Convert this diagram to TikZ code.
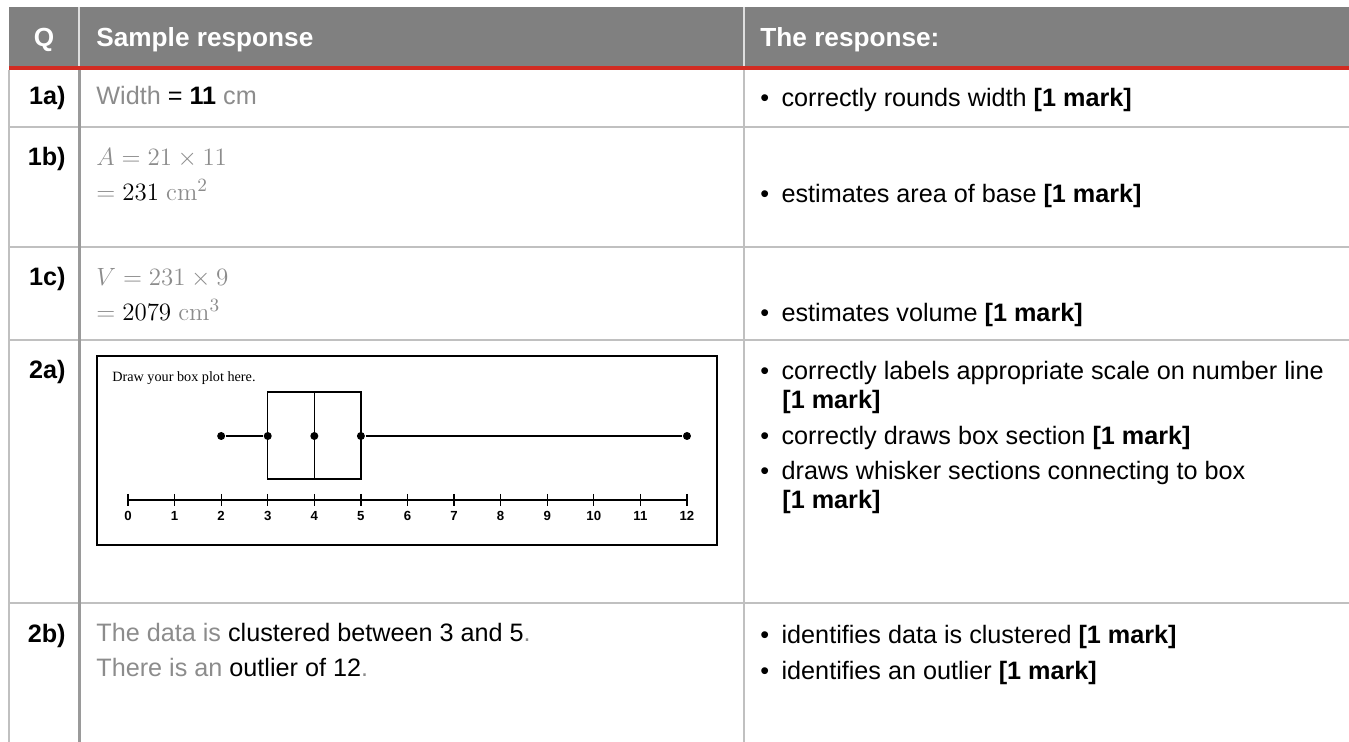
\documentclass[tikz,border=0pt]{standalone}
\usepackage[no-math]{fontspec}
\usepackage{graphicx}
\setmainfont{Liberation Sans}
\newfontfamily\plotfont{Liberation Serif}
\usetikzlibrary{positioning}

\definecolor{hdrgray}{HTML}{808080}
\definecolor{rulered}{HTML}{D22B22}
\definecolor{gridgray}{HTML}{C0C0C0}
\definecolor{txtgray}{HTML}{8C8C8C}

\newcommand{\mk}{\textbf{[1 mark]}}
\newcommand{\gr}[1]{\textcolor{txtgray}{#1}}
\newcommand{\bul}{\textbullet\hspace{6.2pt}}
\newcommand{\mth}[1]{\scalebox{1.04}{$#1$}}

\tikzset{
  hdr/.style={anchor=base west, inner sep=0pt, text=white,
    font=\fontsize{13.1}{15}\selectfont\bfseries},
  qlab/.style={anchor=base east, inner sep=0pt,
    font=\fontsize{12.6}{15}\selectfont\bfseries},
  resp/.style={anchor=base west, inner sep=0pt,
    font=\fontsize{12.6}{15}\selectfont},
  mathresp/.style={anchor=base west, inner sep=0pt, text=txtgray,
    font=\fontsize{12.4}{15}\selectfont},
  gridline/.style={draw=gridgray, line width=1pt},
  dot/.style={circle, fill=black, inner sep=0pt, minimum size=4pt},
  ticklab/.style={anchor=base, inner sep=0pt,
    font=\fontsize{6.6}{8}\selectfont\bfseries},
}

\begin{document}
\begin{tikzpicture}[x=0.5pt,y=-0.5pt]
    \useasboundingbox (0,0) rectangle (1349,742);

    % header
    \fill[hdrgray] (9,7) rectangle (1349,67);
    \draw[white!75!hdrgray, line width=0.8pt] (79,7) -- (79,66);
    \draw[white!75!hdrgray, line width=0.8pt] (744,7) -- (744,66);
    \fill[rulered] (9,66) rectangle (1349,70);
    \node[hdr, anchor=base] (hq) at (44,47) {Q};
    \node[hdr] (hsample) at (96,47) {Sample response};
    \node[hdr] (hresp) at (760,47) {The response:};

    % grid
    \foreach \y in {127,247,340,603}
        \draw[gridline] (9,\y) -- (1349,\y);
    \draw[gridline] (9,70) -- (9,742);
    \draw[gridline, draw=gridgray!80!black, line width=1.5pt] (79,70) -- (79,742);
    \draw[gridline] (744,70) -- (744,742);

    % 1a
    \node[qlab] (q1a) at (66,105) {1a)};
    \node[resp] (s1a) at (96,105) {\gr{Width} = \textbf{11} \gr{cm}};
    \node[resp] (r1a) at (760,107) {\bul correctly rounds width \mk};

    % 1b
    \node[qlab] (q1b) at (66,166) {1b)};
    \node[mathresp] (s1b) at (96,166) {\mth{A = 21 \times 11}};
    \node[mathresp] (s1b2) at (96,201) {\mth{= \textcolor{black}{231}\ \mathrm{cm}^2}};
    \node[resp] (r1b) at (760,203) {\bul estimates area of base \mk};

    % 1c
    \node[qlab] (q1c) at (66,286) {1c)};
    \node[mathresp] (s1c) at (96,286) {\mth{V = 231 \times 9}};
    \node[mathresp] (s1c2) at (96,321) {\mth{= \textcolor{black}{2079}\ \mathrm{cm}^3}};
    \node[resp] (r1c) at (760,322) {\bul estimates volume \mk};

    % 2a
    \node[qlab] (q2a) at (66,379) {2a)};
    \node[resp] (r2a) at (760,380) {\bul correctly labels appropriate scale on number line};
    \node[resp] (r2a2) at (782,409) {\mk};
    \node[resp] (r2b) at (760,445) {\bul correctly draws box section \mk};
    \node[resp] (r2c) at (760,480) {\bul draws whisker sections connecting to box};
    \node[resp] (r2c2) at (782,509) {\mk};

    % box plot
    \draw[line width=0.75pt] (97,356) rectangle (717,545);
    \node[anchor=base west, inner sep=0pt, font=\plotfont\fontsize{7.1}{8}\selectfont]
        (plottitle) at (112,382) {Draw your box plot here.};
    \begin{scope}[shift={(128,500)}, x=23.29pt, y=-0.5pt, line width=0.6pt]
        \draw (0,0) -- (12,0);
        \foreach \v in {0,...,12} {
            \draw (\v,-6) -- (\v,6);
            \node[ticklab] (t\v) at (\v,21) {\v};
        }
        \draw (3,-108) rectangle (5,-21);
        \draw (4,-108) -- (4,-21);
        \foreach \v in {2,3,4,5,12}
            \node[dot] (d\v) at (\v,-64) {};
        \draw (d2) -- (d3);
        \draw (d5) -- (d12);
    \end{scope}

    % 2b
    \node[qlab] (q2b) at (66,642) {2b)};
    \node[resp] (s2b) at (96,641) {\gr{The data is} clustered between 3 and 5\gr{.}};
    \node[resp] (s2b2) at (96,676) {\gr{There is an} outlier of 12\gr{.}};
    \node[resp] (r2d) at (760,643) {\bul identifies data is clustered \mk};
    \node[resp] (r2e) at (760,679) {\bul identifies an outlier \mk};
\end{tikzpicture}
\end{document}
